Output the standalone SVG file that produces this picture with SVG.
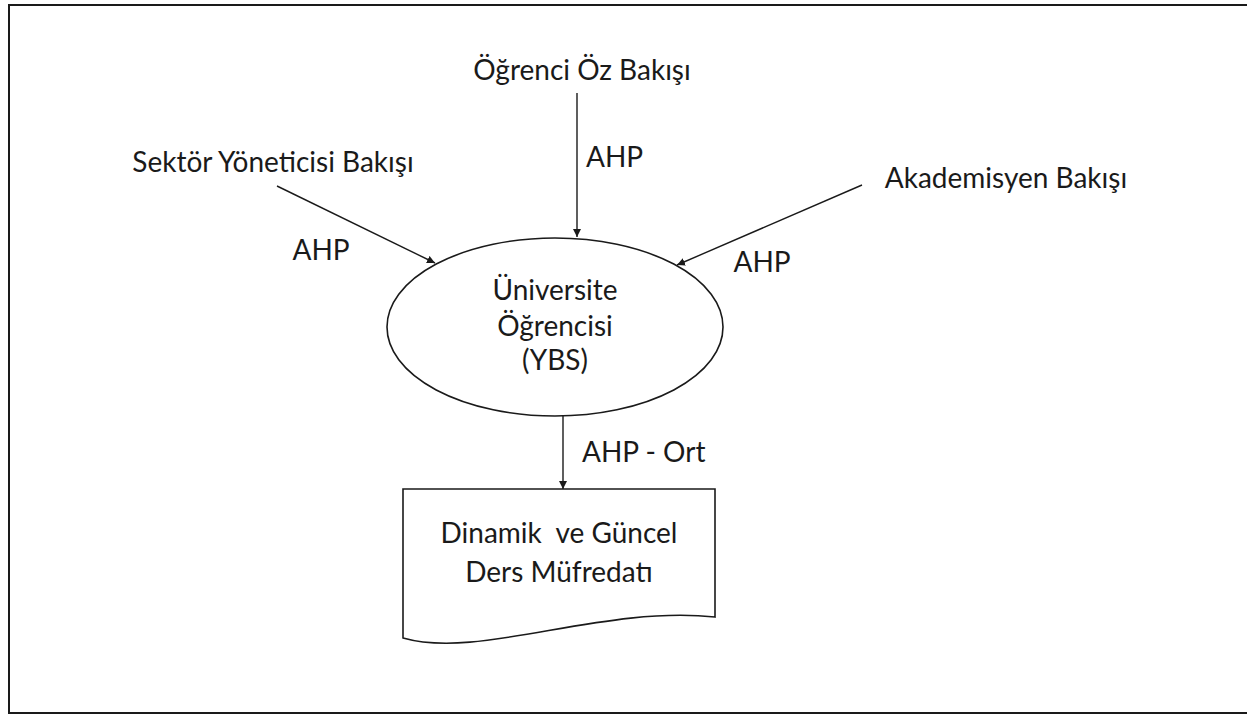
<svg xmlns="http://www.w3.org/2000/svg" width="1247" height="715" viewBox="0 0 1247 715">
<style>
.t{font-family:Lato,"Liberation Sans",sans-serif;font-size:28px;fill:#1a1a1a}
.c{stroke:#1a1a1a;stroke-width:1.4;fill:none}
.s{stroke:#1a1a1a;stroke-width:1.6;fill:#fff}
</style>
<defs>
<marker id="ah" viewBox="0 0 10 10" refX="10" refY="5" markerWidth="8" markerHeight="8" markerUnits="userSpaceOnUse" orient="auto">
<path d="M0,0 L10,5 L0,10 z" fill="#1a1a1a"/>
</marker>
</defs>
<rect width="1247" height="715" fill="#fff"/>
<path d="M1247,5 H9 V713 H1247" stroke="#1a1a1a" stroke-width="2" fill="none"/>
<g id="connectors">
<line class="c" x1="577" y1="93" x2="577" y2="237" marker-end="url(#ah)"/>
<line class="c" x1="277" y1="186" x2="435" y2="263" marker-end="url(#ah)"/>
<line class="c" x1="862" y1="185" x2="677" y2="265" marker-end="url(#ah)"/>
<line class="c" x1="563" y1="416" x2="563" y2="489" marker-end="url(#ah)"/>
<text class="t" x="321" y="260" text-anchor="middle">AHP</text>
<text class="t" x="586" y="167">AHP</text>
<text class="t" x="762" y="272" text-anchor="middle">AHP</text>
<text class="t" x="582" y="462">AHP - Ort</text>
</g>
<g id="ogrenci-oz">
<text class="t" x="582" y="80" text-anchor="middle">Öğrenci Öz Bakışı</text>
</g>
<g id="sektor">
<text class="t" x="273" y="172" text-anchor="middle">Sektör Yöneticisi Bakışı</text>
</g>
<g id="akademisyen">
<text class="t" x="1006" y="188" text-anchor="middle">Akademisyen Bakışı</text>
</g>
<g id="universite">
<ellipse class="s" cx="555" cy="327" rx="168" ry="89"/>
<text class="t" x="555" y="300" text-anchor="middle">Üniversite</text>
<text class="t" x="555" y="336" text-anchor="middle">Öğrencisi</text>
<text class="t" x="555" y="370" text-anchor="middle">(YBS)</text>
</g>
<g id="mufredat">
<path class="s" d="M403,489 H715 V617 C600,605 480,660 403,638 Z"/>
<text class="t" x="559" y="543" text-anchor="middle" xml:space="preserve">Dinamik  ve Güncel</text>
<text class="t" x="559" y="582" text-anchor="middle">Ders Müfredatı</text>
</g>
</svg>
